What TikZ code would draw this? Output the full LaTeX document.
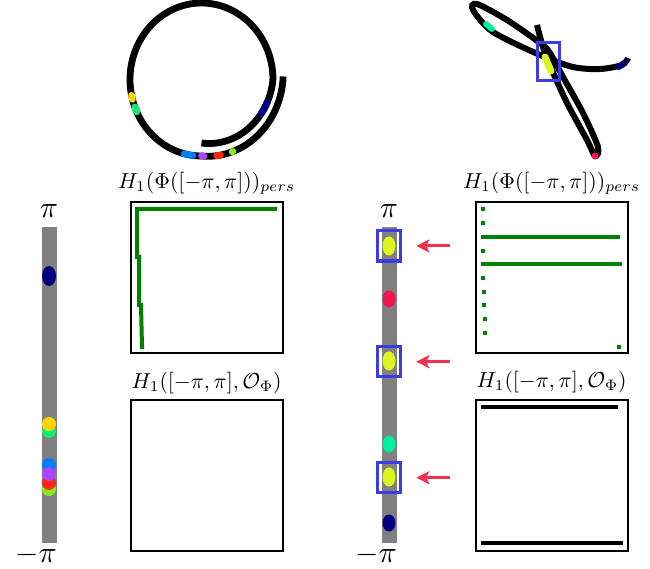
\documentclass[tikz,border=0pt]{standalone}
\usetikzlibrary{arrows.meta}
\definecolor{cyel}{RGB}{255,215,0}
\definecolor{cgrn}{RGB}{20,235,110}
\definecolor{cblu}{RGB}{0,128,255}
\definecolor{cpur}{RGB}{170,70,255}
\definecolor{cred}{RGB}{255,40,10}
\definecolor{clim}{RGB}{130,240,20}
\definecolor{cnav}{RGB}{0,0,128}
\definecolor{clem}{RGB}{220,245,30}
\definecolor{ccrm}{RGB}{240,20,80}
\definecolor{cteal}{RGB}{0,240,160}
\definecolor{cbox}{RGB}{60,60,230}
\definecolor{carr}{RGB}{240,50,80}
\definecolor{cplot}{RGB}{0,128,0}
\definecolor{cbar}{RGB}{128,128,128}
\begin{document}
\begin{tikzpicture}[x=1pt,y=-1pt,
  declare function={sf(\t)=(\t>0)*(1-0.17*\t/90)+(\t<-270)*(1+0.14*(-270-\t)/90)+(\t<=0)*(\t>=-270);},
  lbl/.style={font=\normalsize, scale=2.17, inner sep=0pt},
  biglbl/.style={font=\normalsize, scale=3.0, inner sep=0pt},
  curve/.style={line width=6.8pt, black},
  cmark/.style={line width=6.8pt, line cap=round},
  bar/.style={fill=cbar, draw=none, minimum width=15pt, minimum height=316pt, inner sep=0pt},
  pbox/.style={draw=black, line width=2pt, minimum width=152pt, minimum height=151pt, inner sep=0pt},
  sel/.style={draw=cbox, line width=3pt, minimum width=23pt, minimum height=30pt, inner sep=0pt},
  arr/.style={carr, line width=3pt, -{Stealth[length=13pt,width=13pt,inset=3pt]}},
  pl/.style={cplot, line width=4pt},
  dotp/.style={fill=cplot}
]
\useasboundingbox (0,0) rectangle (650,569);

% ---------- top-left spiral ----------
\def\spiral#1#2{plot[domain=#1:#2, samples=8, smooth] ({201.5+71.5*sf(\x)*cos(\x)}, {79.5+76.5*sf(\x)*sin(\x)})}
\draw[curve] plot[domain=90:-362, samples=150, smooth] ({201.5+71.5*sf(\x)*cos(\x)}, {79.5+76.5*sf(\x)*sin(\x)});
\draw[cmark, cyel] \spiral{-192}{-195};
\draw[cmark, cgrn] \spiral{-201}{-205};
\draw[cmark, cblu] \spiral{-256}{-263};
\draw[cmark, cpur] \spiral{-270}{-272};
\draw[cmark, cred] \spiral{-282}{-285};
\draw[cmark, clim] \spiral{-294.5}{-295};
\draw[cmark, cnav] \spiral{28}{18};

% ---------- top-right figure eight ----------
\draw[curve, line width=6pt] plot[smooth] coordinates {(537,25) (543,47) (552,70) (567,103) (587,140) (595,156) (598,147) (583,113) (563,77) (550,53) (540,43) (507,20) (477,4) (473,10) (493,32) (540,55) (573,67) (600,69) (622,65) (628,58)};
\draw[cmark, cteal, line width=6pt] (486,24) -- (492,29);
\draw[cmark, cnav, line width=6pt] (619,67) -- (624,63);
\fill[ccrm] (595,156) circle (3.5);
\draw[cmark, clem, line width=7pt] (545,57) -- (551,71);
\node[sel, minimum width=22pt, minimum height=38pt] (tsel) at (548,61.7) {};

% ---------- left bar ----------
\node[bar] (lbar) at (49,384.7) {};
\node[biglbl, anchor=south] (lpi) at ([yshift=8pt]lbar.north) {$\pi$};
\node[biglbl] (lmpi) at (36,555) {$-\pi$};
\fill[cnav] (49,276) ellipse (7 and 10);
\fill[cgrn] (49,431) circle (7);
\fill[cyel] (49,424) circle (7);
\fill[clim] (49,489) circle (7);
\fill[cred] (49,483) circle (7);
\fill[cblu] (49,465) circle (7);
\fill[cpur] (49,474) circle (7);

% ---------- right bar ----------
\node[bar] (rbar) at (389,384.7) {};
\node[biglbl, anchor=south] (rpi) at ([yshift=8pt]rbar.north) {$\pi$};
\node[biglbl] (rmpi) at (376,555) {$-\pi$};
\fill[clem] (389,246) ellipse (6.5 and 9.5);
\fill[ccrm] (389,299) ellipse (6.5 and 8.5);
\fill[clem] (389,361) ellipse (6.5 and 9.5);
\fill[cteal] (389,444) ellipse (6.5 and 8.5);
\fill[clem] (389,477) ellipse (6.5 and 9.5);
\fill[cnav] (389,523) ellipse (6.5 and 8.5);
\node[sel] (s1) at (389.3,246) {};
\node[sel] (s2) at (389.3,361.7) {};
\node[sel] (s3) at (389.3,477.7) {};
\coordinate (a1) at (450,246);
\coordinate (a2) at (450,361.7);
\coordinate (a3) at (450,477.7);
\draw[arr] (a1) -- ([xshift=14pt]s1.east);
\draw[arr] (a2) -- ([xshift=14pt]s2.east);
\draw[arr] (a3) -- ([xshift=14pt]s3.east);

% ---------- plot boxes ----------
\node[pbox] (p1) at (206.7,277.8) {};
\node[pbox] (p2) at (206.7,475.5) {};
\node[pbox] (p3) at (551.7,277.8) {};
\node[pbox] (p4) at (551.7,475.0) {};
\node[lbl, anchor=south] (t1) at ([yshift=6pt]p1.north) {$H_1(\Phi([-\pi,\pi]))_{pers}$};
\node[lbl, anchor=south] (t2) at ([yshift=5pt]p2.north) {$H_1([-\pi,\pi],\mathcal{O}_\Phi)$};
\node[lbl, anchor=south] (t3) at ([yshift=6pt]p3.north) {$H_1(\Phi([-\pi,\pi]))_{pers}$};
\node[lbl, anchor=south] (t4) at ([yshift=5pt]p4.north) {$H_1([-\pi,\pi],\mathcal{O}_\Phi)$};

% left persistence plot
\draw[pl] (277,209) -- (137,209) -- (137,257) -- (139,257) -- (139,305) -- (141,305) -- (142,347) -- (144,347);

% right persistence plot
\foreach \px/\py in {482.7/209.3, 482.7/223.3, 482.7/250.7, 483.3/277.7, 484/291.7, 484.3/305, 484.7/319, 485.3/332.7, 619/346.7}
  \fill[dotp] (\px-2,\py-2) rectangle (\px+2,\py+2);
\draw[pl] (481,236.7) -- (620,236.7);
\draw[pl] (481,264.3) -- (622.3,264.3);

% right bottom plot
\draw[line width=4pt] (481,406.7) -- (617.7,406.7);
\draw[line width=4pt] (481,543.3) -- (622.7,543.3);
\end{tikzpicture}
\end{document}
